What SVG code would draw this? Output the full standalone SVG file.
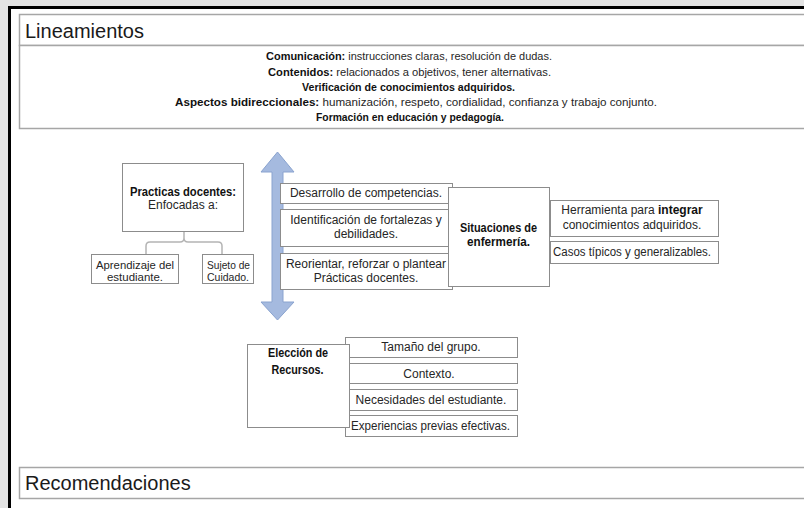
<svg xmlns="http://www.w3.org/2000/svg" width="804" height="508" viewBox="0 0 804 508">
  <style>
    text { font-family: "Liberation Sans", Arial, sans-serif; fill: #262626; }
    .title { font-size: 20px; fill: #1a1a1a; }
    .body { font-size: 11px; text-anchor: middle; }
    .lbl { font-size: 12px; text-anchor: middle; }
    .sm { font-size: 11px; }
    .b { font-weight: bold; fill: #111; }
    .box { fill: #ffffff; stroke: #8c8c8c; stroke-width: 1; }
    .band { fill: #ffffff; stroke: #a6a6a6; stroke-width: 1.5; }
    .link { fill: none; stroke: #b4b4b4; stroke-width: 1.5; }
  </style>

  <!-- page background and frame -->
  <rect x="0" y="0" width="804" height="508" fill="#e3e3e3"/>
  <rect x="9.5" y="7.5" width="800" height="510" fill="#ffffff" stroke="#000000" stroke-width="3"/>

  <!-- Lineamientos band -->
  <g id="lineamientos">
    <rect class="band" x="19.5" y="14.5" width="800" height="31"/>
    <text class="title" x="25" y="38">Lineamientos</text>
    <rect class="band" x="19.5" y="45.5" width="800" height="83"/>
    <text class="body" x="409" y="60" textLength="286" lengthAdjust="spacingAndGlyphs"><tspan class="b">Comunicación:</tspan> instrucciones claras, resolución de dudas.</text>
    <text class="body" x="409.5" y="75.5" textLength="283" lengthAdjust="spacingAndGlyphs"><tspan class="b">Contenidos:</tspan> relacionados a objetivos, tener alternativas.</text>
    <text class="body b" x="408.5" y="91" textLength="213" lengthAdjust="spacingAndGlyphs">Verificación de conocimientos adquiridos.</text>
    <text class="body" x="416" y="106" textLength="482" lengthAdjust="spacingAndGlyphs"><tspan class="b">Aspectos bidireccionales:</tspan> humanización, respeto, cordialidad, confianza y trabajo conjunto.</text>
    <text class="body b" x="410" y="121" textLength="188" lengthAdjust="spacingAndGlyphs">Formación en educación y pedagogía.</text>
  </g>

  <!-- connectors -->
  <g id="connectors">
    <path class="link" d="M146,254 V246 Q146,242 150,242 H180 Q184,242 184,238 V231 M184,238 Q184,242 188,242 H218 Q222,242 222,246 V254"/>
    <path id="double-arrow" d="M277.5,152 L294,172 L283,172 L283,302 L294,302 L277.5,320 L261,302 L272,302 L272,172 L261,172 Z" fill="#a5badf" stroke="#8aa3cf" stroke-width="1"/>
  </g>

  <g id="practicas">
    <rect class="box" x="122.5" y="163.5" width="121" height="68"/>
    <text class="lbl b" x="183" y="196" textLength="106" lengthAdjust="spacingAndGlyphs">Practicas docentes:</text>
    <text class="lbl" x="183" y="208.5">Enfocadas a:</text>
  </g>
  <g id="aprendizaje">
    <rect class="box" x="91.5" y="254.5" width="87" height="29"/>
    <text class="lbl sm" x="135" y="268.5" textLength="78" lengthAdjust="spacingAndGlyphs">Aprendizaje del</text>
    <text class="lbl sm" x="135" y="281" textLength="56" lengthAdjust="spacingAndGlyphs">estudiante.</text>
  </g>
  <g id="sujeto">
    <rect class="box" x="202.5" y="254.5" width="51" height="29"/>
    <text class="lbl sm" x="228.5" y="268.5" textLength="43" lengthAdjust="spacingAndGlyphs">Sujeto de</text>
    <text class="lbl sm" x="228" y="281" textLength="42" lengthAdjust="spacingAndGlyphs">Cuidado.</text>
  </g>

  <g id="desarrollo">
    <rect class="box" x="280.5" y="183.5" width="172" height="20"/>
    <text class="lbl" x="366" y="197">Desarrollo de competencias.</text>
  </g>
  <g id="identificacion">
    <rect class="box" x="280.5" y="209.5" width="172" height="37"/>
    <text class="lbl" x="366" y="224">Identificación de fortalezas y</text>
    <text class="lbl" x="366" y="238">debilidades.</text>
  </g>
  <g id="reorientar">
    <rect class="box" x="280.5" y="253.5" width="172" height="36"/>
    <text class="lbl" x="366" y="268">Reorientar, reforzar o plantear</text>
    <text class="lbl" x="366" y="282">Prácticas docentes.</text>
  </g>
  <g id="situaciones">
    <rect class="box" x="448.5" y="187.5" width="101" height="99"/>
    <text class="lbl b" x="498.5" y="232" textLength="77" lengthAdjust="spacingAndGlyphs">Situaciones de</text>
    <text class="lbl b" x="498.5" y="246" textLength="63" lengthAdjust="spacingAndGlyphs">enfermería.</text>
  </g>
  <g id="herramienta">
    <rect class="box" x="550.5" y="200.5" width="168" height="36"/>
    <text class="lbl" x="632" y="214">Herramienta para <tspan class="b">integrar</tspan></text>
    <text class="lbl" x="632" y="229">conocimientos adquiridos.</text>
  </g>
  <g id="casos">
    <rect class="box" x="550.5" y="241.5" width="168" height="22"/>
    <text class="lbl" x="632" y="256" textLength="158" lengthAdjust="spacingAndGlyphs">Casos típicos y generalizables.</text>
  </g>

  <g id="tamano">
    <rect class="box" x="345.5" y="337.5" width="172" height="20"/>
    <text class="lbl" x="431" y="351">Tamaño del grupo.</text>
  </g>
  <g id="contexto">
    <rect class="box" x="345.5" y="363.5" width="172" height="20"/>
    <text class="lbl" x="429" y="377.5">Contexto.</text>
  </g>
  <g id="necesidades">
    <rect class="box" x="345.5" y="389.5" width="172" height="21"/>
    <text class="lbl" x="431" y="403.5">Necesidades del estudiante.</text>
  </g>
  <g id="experiencias">
    <rect class="box" x="345.5" y="415.5" width="172" height="21"/>
    <text class="lbl" x="430.5" y="429.5" textLength="159" lengthAdjust="spacingAndGlyphs">Experiencias previas efectivas.</text>
  </g>
  <g id="eleccion">
    <rect class="box" x="247.5" y="344.5" width="102" height="83"/>
    <text class="lbl b" x="298" y="357" textLength="60" lengthAdjust="spacingAndGlyphs">Elección de</text>
    <text class="lbl b" x="297.5" y="374" textLength="52" lengthAdjust="spacingAndGlyphs">Recursos.</text>
  </g>

  <!-- Recomendaciones band -->
  <g id="recomendaciones">
    <rect class="band" x="19.5" y="467.5" width="800" height="31"/>
    <text class="title" x="25" y="490">Recomendaciones</text>
  </g>
</svg>
